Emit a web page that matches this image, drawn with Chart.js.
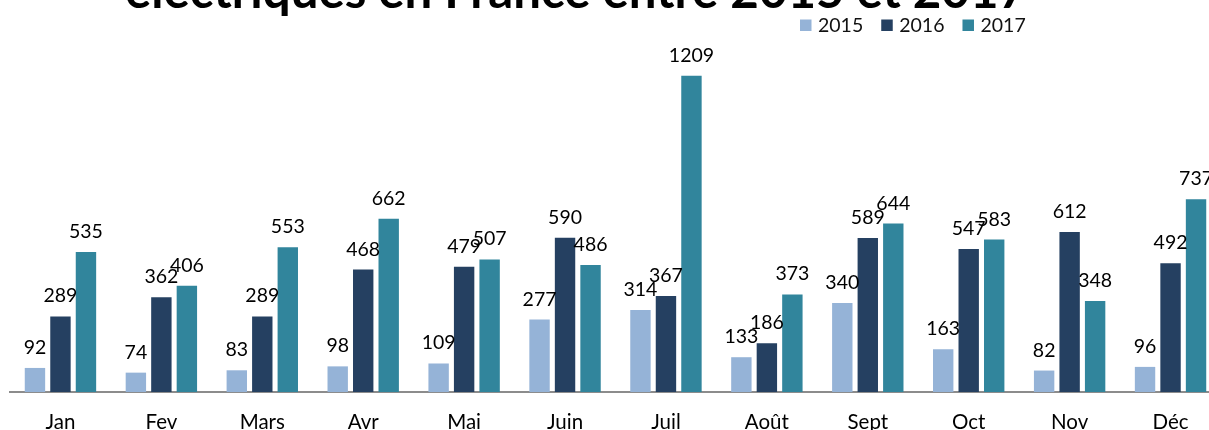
<!DOCTYPE html>
<html>
<head>
<meta charset="utf-8">
<script src="https://cdn.jsdelivr.net/npm/chart.js@4.4.0/dist/chart.umd.min.js"></script>
<style>
  html, body { margin: 0; padding: 0; background: #ffffff; overflow: hidden; }
  #wrap { position: absolute; left: 0; top: 0; width: 1221px; height: 450px; }
</style>
</head>
<body>
<div id="wrap"><canvas id="c" width="1221" height="450"></canvas></div>
<script>
const categories = ['Jan', 'Fev', 'Mars', 'Avr', 'Mai', 'Juin', 'Juil', 'Août', 'Sept', 'Oct', 'Nov', 'Déc'];
const seriesNames = ['2015', '2016', '2017'];
const values2015 = [92, 74, 83, 98, 109, 277, 314, 133, 340, 163, 82, 96];
const values2016 = [289, 362, 289, 468, 479, 590, 367, 186, 589, 547, 612, 492];
const values2017 = [535, 406, 553, 662, 507, 486, 1209, 373, 644, 583, 348, 737];
const titleText = 'électriques en France entre 2015 et 2017';

const colors = ['#95B3D7', '#254061', '#31859C'];
const FONT = 'Lato, "Open Sans", "DejaVu Sans", sans-serif';

const labelPlugin = {
  id: 'barLabels',
  afterDatasetsDraw(chart) {
    const ctx = chart.ctx;
    ctx.save();
    ctx.font = '19.5px ' + FONT;
    ctx.fillStyle = '#000000';
    ctx.textAlign = 'center';
    ctx.textBaseline = 'alphabetic';
    chart.data.datasets.forEach((ds, i) => {
      const meta = chart.getDatasetMeta(i);
      meta.data.forEach((bar, j) => {
        ctx.fillText(String(ds.data[j]), bar.x, bar.y - 14);
      });
    });
    ctx.restore();
  }
};

const headerPlugin = {
  id: 'header',
  afterDraw(chart) {
    const ctx = chart.ctx;
    ctx.save();
    // title (only its lower part is visible in the frame)
    let size = 40;
    ctx.font = 'bold ' + size + 'px ' + FONT;
    const w = ctx.measureText(titleText).width;
    size = size * 902 / w;
    ctx.font = 'bold ' + size.toFixed(2) + 'px ' + FONT;
    ctx.fillStyle = '#000000';
    ctx.textAlign = 'center';
    ctx.textBaseline = 'alphabetic';
    ctx.fillText(titleText, 576, 8);
    // legend
    ctx.font = '19.5px ' + FONT;
    ctx.textAlign = 'left';
    let x = 800;
    seriesNames.forEach((name, i) => {
      ctx.fillStyle = colors[i];
      ctx.fillRect(x, 19.5, 11.5, 11.5);
      ctx.fillStyle = '#111111';
      ctx.fillText(name, x + 18, 31.5);
      x += 18 + ctx.measureText(name).width + 18;
    });
    ctx.restore();
  }
};

new Chart(document.getElementById('c'), {
  type: 'bar',
  data: {
    labels: categories,
    datasets: [
      { label: seriesNames[0], data: values2015, backgroundColor: colors[0] },
      { label: seriesNames[1], data: values2016, backgroundColor: colors[1] },
      { label: seriesNames[2], data: values2017, backgroundColor: colors[2] }
    ]
  },
  options: {
    responsive: false,
    animation: false,
    devicePixelRatio: 1,
    layout: { padding: { left: 10, right: 0, top: 52, bottom: 0 } },
    datasets: { bar: { categoryPercentage: 0.758, barPercentage: 0.8 } },
    plugins: {
      legend: { display: false },
      title: { display: false },
      tooltip: { enabled: false }
    },
    scales: {
      x: {
        grid: { display: false, drawTicks: false },
        border: { display: true, color: '#8c8c8c', width: 2 },
        ticks: { color: '#000000', font: { family: FONT, size: 20.5 }, padding: 18, maxRotation: 0, autoSkip: false },
        afterFit(scale) { scale.height = 58; }
      },
      y: {
        display: false,
        min: 0,
        max: 1300
      }
    }
  },
  plugins: [labelPlugin, headerPlugin]
});
</script>
</body>
</html>
